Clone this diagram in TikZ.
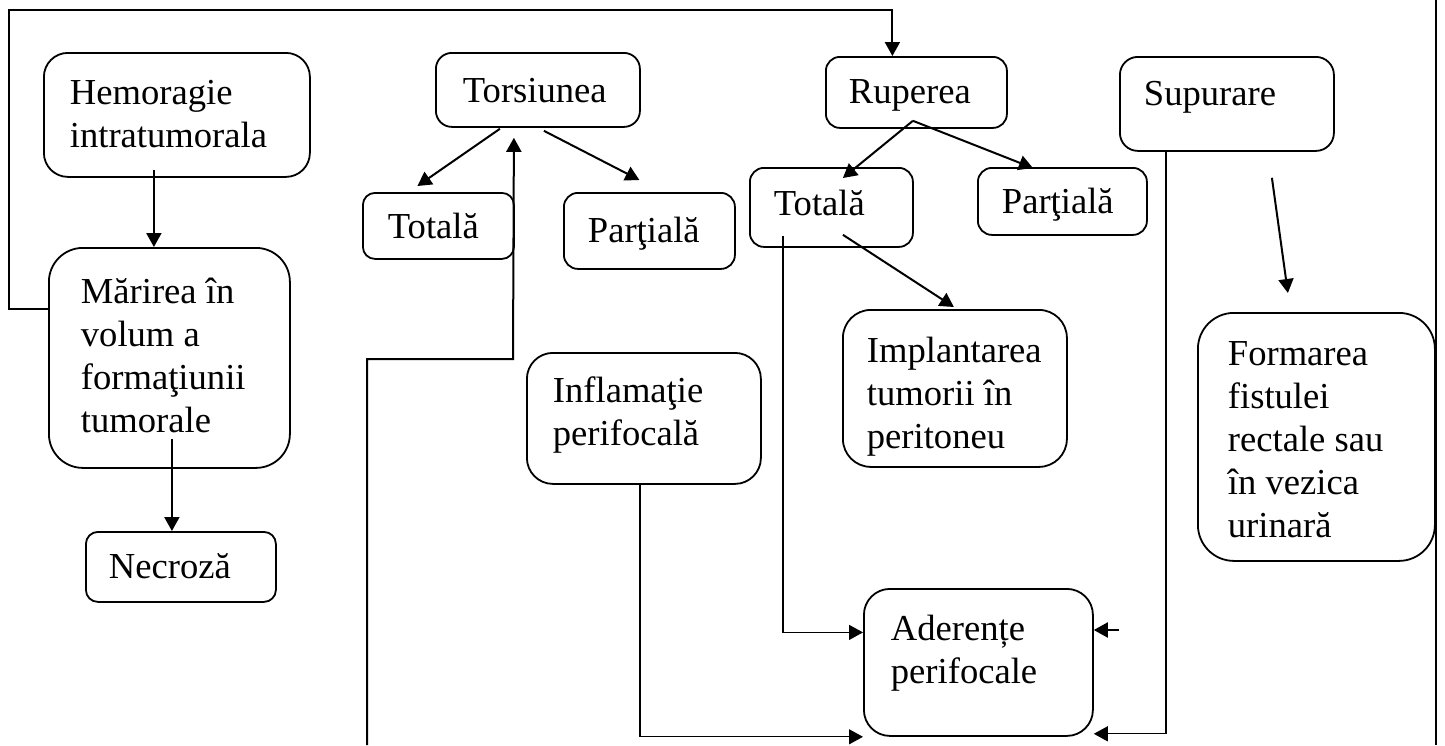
\documentclass[tikz,border=0pt]{standalone}
\usepackage{fontspec}
\setmainfont{Liberation Serif}
\usetikzlibrary{arrows.meta,calc}

\begin{document}
\begin{tikzpicture}[x=0.5pt,y=-0.5pt,
  blk/.style={draw, line width=0.9pt, anchor=north west, align=flush left, inner ysep=0pt, font=\fontsize{18.3pt}{21.5pt}\selectfont},
  arr/.style={line width=1pt, -{Triangle[length=7pt,width=7.5pt]}},
  thn/.style={arr, line width=0.65pt}]
\useasboundingbox (0,0) rectangle (1445,745);
% boxes
\node[blk, rounded corners=12pt, inner xsep=13pt, text width=107pt, text height=26pt, text depth=36pt] (hem) at (43,52) {Hemoragie\\intratumorala};
\node[blk, rounded corners=17pt, inner xsep=16pt, text width=88.5pt, text height=28pt, text depth=82pt] (mar) at (48,247) {Mărirea în\\volum a\\formaţiunii\\tumorale};
\node[blk, rounded corners=6pt, inner xsep=11.5pt, text width=72pt, text height=23.5pt, text depth=11.5pt] (nec) at (85,531) {Necroză};
\node[blk, rounded corners=8pt, inner xsep=13.5pt, text width=75pt, text height=25pt, text depth=12pt] (tors) at (435,52) {Torsiunea};
\node[blk, rounded corners=6pt, inner xsep=12.5pt, text width=50.5pt, text height=23pt, text depth=10pt] (totL) at (362,192) {Totală};
\node[blk, rounded corners=7pt, inner xsep=12pt, text width=61.5pt, text height=25pt, text depth=13pt] (parL) at (563,192) {Parţială};
\node[blk, rounded corners=7pt, inner xsep=11.5pt, text width=67.5pt, text height=23.5pt, text depth=12pt] (rup) at (825,56) {Ruperea};
\node[blk, rounded corners=7pt, inner xsep=12pt, text width=57.5pt, text height=24pt, text depth=15.5pt] (totR) at (749,167) {Totală};
\node[blk, rounded corners=7pt, inner xsep=12pt, text width=60.5pt, text height=23pt, text depth=10.5pt] (parR) at (977,167) {Parţială};
\node[blk, rounded corners=9pt, inner xsep=12pt, text width=83pt, text height=24.5pt, text depth=22.5pt] (sup) at (1119,56) {Supurare};
\node[blk, rounded corners=14pt, inner xsep=12pt, text width=88pt, text height=26.5pt, text depth=52pt] (impl) at (842,309) {Implantarea\\tumorii în\\peritoneu};
\node[blk, rounded corners=13pt, inner xsep=13pt, text width=91pt, text height=25pt, text depth=40.5pt] (infl) at (526,352) {Inflamaţie\\perifocală};
\node[blk, rounded corners=13pt, inner xsep=13.5pt, text width=87.5pt, text height=26pt, text depth=47.5pt] (ader) at (863,588) {Aderențe\\perifocale};
\node[blk, rounded corners=18pt, inner xsep=15pt, text width=88.5pt, text height=26.5pt, text depth=97.5pt] (form) at (1197,312) {Formarea\\fistulei\\rectale sau\\în vezica\\urinară};
% free ends
\coordinate (b1) at (367,745);
\coordinate (s1) at (1119,630);
\coordinate (r1) at (1436,0);
\coordinate (r2) at (1436,745);
% connectors
\draw[arr] ($(mar.north west)+(0,62)$) -| (9,10) -| ($(rup.north)+(-24,0)$);
\draw[arr] ($(hem.south)+(-23,-8)$) coordinate (h1) -- (h1 |- mar.north);
\draw[arr] ($(mar.south)+(2.5,-30)$) coordinate (m1) -- (m1 |- nec.north);
\draw[arr] ($(tors.south)+(-38,1)$) -- ($(totL.north)+(-21,-6)$);
\draw[arr] ($(tors.south)+(6,3)$) -- ($(parL.north)+(-10,-12)$);
\draw[arr] (b1) |- (513,359) -- ($(tors.south)+(-24,10)$);
\draw[arr] ($(rup.south)+(-3.5,-8)$) -- ($(totR.north)+(11.5,11)$);
\draw[arr] ($(rup.south)+(-3.5,-8)$) -- ($(parR.north)+(-29.5,1)$);
\draw[arr] ($(totR.south)+(11.5,-13)$) -- ($(impl.north)+(-1,-2)$);
\draw[thn] ($(totR.south)+(-48.5,-12)$) |- ($(ader.west)+(0,-30)$);
\draw[thn] ($(infl.south)+(-4,0)$) |- (ader.south west);
\draw[thn] ($(sup.south)+(-61,0)$) |- ($(ader.south east)+(0,-3)$);
\draw[arr] (s1) -- (s1 -| ader.east);
\draw[arr] ($(sup.south)+(45,26)$) -- ($(form.north)+(-28.5,-19)$);
\draw[line width=1pt] (r1) -- (r2);
\end{tikzpicture}
\end{document}
